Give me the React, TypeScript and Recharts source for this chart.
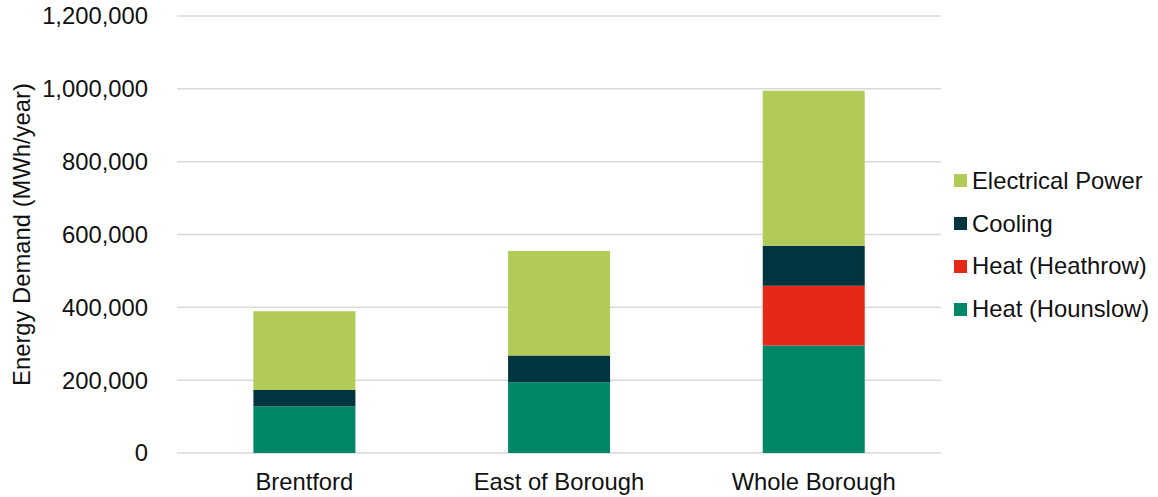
import { BarChart, Bar, XAxis, YAxis, CartesianGrid, Legend, Label } from "recharts";

const areas = ["Brentford", "East of Borough", "Whole Borough"];

// MWh/year per area
const heatHounslow = [128000, 194000, 295000];
const heatHeathrow = [0, 0, 164000];
const cooling = [45000, 74000, 110000];
const electricalPower = [216000, 287000, 426000];

const yTicks = [0, 200000, 400000, 600000, 800000, 1000000, 1200000];

// bottom to top in the stack
const series = [
  { key: "hounslow", name: "Heat (Hounslow)", values: heatHounslow, color: "#008767" },
  { key: "heathrow", name: "Heat (Heathrow)", values: heatHeathrow, color: "#e42916" },
  { key: "cooling", name: "Cooling", values: cooling, color: "#00343f" },
  { key: "electric", name: "Electrical Power", values: electricalPower, color: "#b1cb56" },
];

const data = areas.map((area, i) => {
  const row: Record<string, string | number> = { area };
  series.forEach(s => {
    row[s.key] = s.values[i];
  });
  return row;
});

const FONT = "'Liberation Sans', Arial, sans-serif";
const FONT_SIZE = 23.8;
const TEXT = "#111";

function LegendBox() {
  const items = [...series].reverse();
  return (
    <div style={{ width: 217, paddingLeft: 13, paddingBottom: 7, boxSizing: "border-box", fontFamily: FONT, fontSize: FONT_SIZE, color: TEXT }}>
      {items.map(s => (
        <div key={s.key} style={{ display: "flex", alignItems: "center", height: 42.7, whiteSpace: "nowrap" }}>
          <span style={{ width: 13, height: 13, background: s.color, marginRight: 5, flexShrink: 0 }} />
          <span>{s.name}</span>
        </div>
      ))}
    </div>
  );
}

export default function App() {
  return (
    <div style={{ position: "absolute", left: 0, top: 0, background: "#fff" }}>
      <BarChart
        width={1158}
        height={497}
        data={data}
        margin={{ top: 16, right: 0, bottom: 0, left: 0 }}
        barCategoryGap="30%"
      >
        <CartesianGrid vertical={false} stroke="#d9d9d9" strokeWidth={1.5} />
        <XAxis
          dataKey="area"
          axisLine={false}
          tickLine={false}
          height={44}
          tickMargin={14}
          tick={{ fontSize: FONT_SIZE, fill: TEXT, fontFamily: FONT }}
        />
        <YAxis
          width={177}
          domain={[0, 1200000]}
          ticks={yTicks}
          axisLine={false}
          tickLine={false}
          tickMargin={23}
          tickFormatter={(v: number) => v.toLocaleString("en-US")}
          tick={{ fontSize: FONT_SIZE, fill: TEXT, fontFamily: FONT }}
        >
          <Label
            value="Energy Demand (MWh/year)"
            angle={-90}
            position="insideLeft"
            offset={22}
            style={{ textAnchor: "middle", fontSize: FONT_SIZE, fill: TEXT, fontFamily: FONT }}
          />
        </YAxis>
        <Legend layout="vertical" align="right" verticalAlign="middle" content={() => <LegendBox />} />
        {series.map(s => (
          <Bar
            key={s.key}
            dataKey={s.key}
            name={s.name}
            stackId="demand"
            fill={s.color}
            isAnimationActive={false}
          />
        ))}
      </BarChart>
    </div>
  );
}
